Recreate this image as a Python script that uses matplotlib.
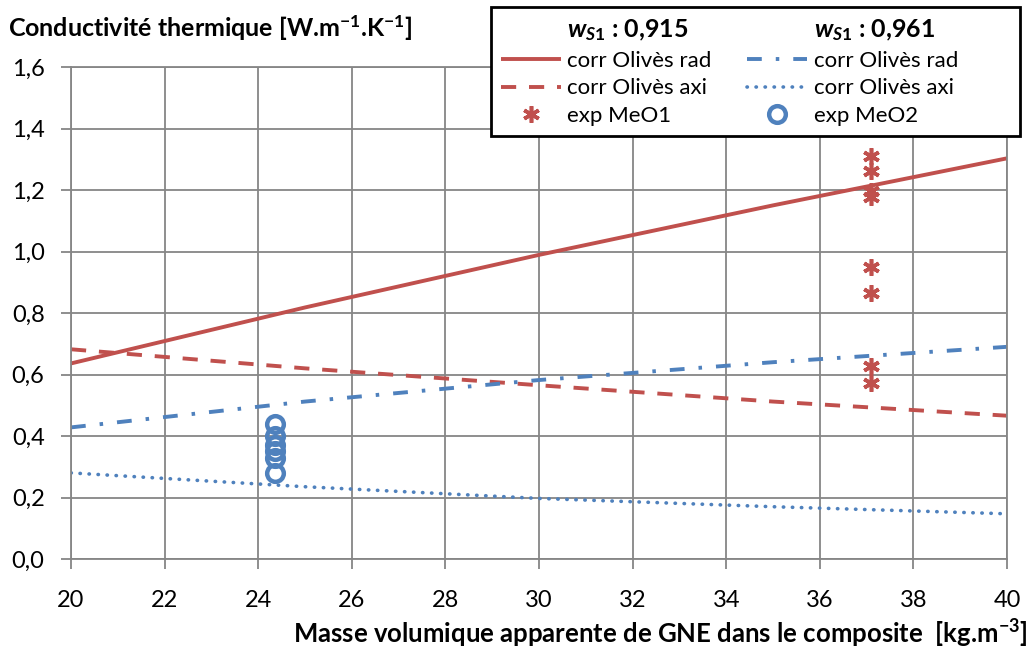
import numpy as np
import matplotlib.pyplot as plt
from matplotlib.lines import Line2D

plt.rcParams['font.family'] = ['Lato', 'DejaVu Sans']
plt.rcParams['mathtext.fontset'] = 'custom'
plt.rcParams['mathtext.rm'] = 'Lato:bold'
plt.rcParams['mathtext.bf'] = 'Lato:bold'
plt.rcParams['mathtext.it'] = 'Lato:bold:italic'

# courbes de corrélation
x_corr = [20, 25, 30, 35, 40]
rad_915 = [0.636, 0.818, 0.989, 1.150, 1.303]
axi_915 = [0.682, 0.620, 0.565, 0.512, 0.466]
rad_961 = [0.428, 0.512, 0.582, 0.640, 0.690]
axi_961 = [0.280, 0.235, 0.197, 0.170, 0.147]

# points expérimentaux
x_meo1 = 37.1
y_meo1 = [1.31, 1.262, 1.197, 1.178, 0.948, 0.866, 0.629, 0.571]
x_meo2 = 24.35
y_meo2 = [0.438, 0.400, 0.370, 0.352, 0.328, 0.280]

red = '#C0504D'
blue = '#4F81BD'
grid_col = '#868686'

fig = plt.figure(figsize=(10.35, 6.49), dpi=100)
ax = fig.add_axes([71 / 1035, 1 - 559 / 649, (1007 - 71) / 1035, (559 - 67) / 649])

l1, = ax.plot(x_corr, rad_915, color=red, lw=2.8, solid_capstyle='butt')
l2, = ax.plot(x_corr, axi_915, color=red, lw=2.8, dashes=(3.9, 3.3))
l3, = ax.plot(x_corr, rad_961, color=blue, lw=2.8, dashes=(3.8, 3.6, 0.9, 3.6))
l4, = ax.plot(x_corr, axi_961, color=blue, lw=2.6, dashes=(0.1, 2.4), dash_capstyle='round')
m1, = ax.plot([x_meo1] * len(y_meo1), y_meo1, ls='none', marker=(6, 2, 0),
              ms=12, mec=red, mew=2.6, color=red)
m2, = ax.plot([x_meo2] * len(y_meo2), y_meo2, ls='none', marker='o', ms=12,
              mfc='none', mec=blue, mew=3.2)

ax.set_xlim(20, 40)
ax.set_ylim(0, 1.6)
xt = np.arange(20, 41, 2)
yt = np.round(np.arange(0, 1.61, 0.2), 1)
ax.set_xticks(xt)
ax.set_xticklabels([str(v) for v in xt])
ax.set_yticks(yt)
ax.set_yticklabels([f"{v:.1f}".replace('.', ',') for v in yt])
ax.grid(True, color=grid_col, lw=1.3)
ax.set_axisbelow(True)
for s in ax.spines.values():
    s.set_color(grid_col)
    s.set_linewidth(1.3)
ax.tick_params(colors=grid_col, labelcolor='black', labelsize=17, length=7, width=1.3)
ax.tick_params(axis='x', pad=15)
ax.tick_params(axis='y', pad=12)

fig.text(8 / 1035, 1 - 28 / 649, r"Conductivité thermique [W.m$^{-1}$.K$^{-1}$]",
         fontsize=18, fontweight='bold', va='center', ha='left')
fig.text(1028 / 1035, 1 - 634 / 649,
         r"Masse volumique apparente de GNE dans le composite  [kg.m$^{-3}$]",
         fontsize=18.5, fontweight='bold', va='center', ha='right')

blank = Line2D([], [], ls='none')
handles = [blank, l1, l2, m1, blank, l3, l4, m2]
labels = [r"$w_{S1}$ : 0,915", "corr Olivès rad", "corr Olivès axi", "exp MeO1",
          r"$w_{S1}$ : 0,961", "corr Olivès rad         ", "corr Olivès axi", "exp MeO2"]
leg = fig.legend(handles, labels, ncol=2, loc='upper right',
                 bbox_to_anchor=(1031 / 1035, 1 + 4 / 649), fontsize=16,
                 frameon=True, fancybox=False, edgecolor='black', framealpha=1,
                 handlelength=2.7, columnspacing=1.6, labelspacing=0.35,
                 borderpad=0.45, handletextpad=0.3)
leg.get_frame().set_linewidth(2)
for i in (0, 4):
    leg.get_texts()[i].set_fontweight('bold')
    leg.get_texts()[i].set_fontsize(18)

fig.savefig('out.png', dpi=100)
